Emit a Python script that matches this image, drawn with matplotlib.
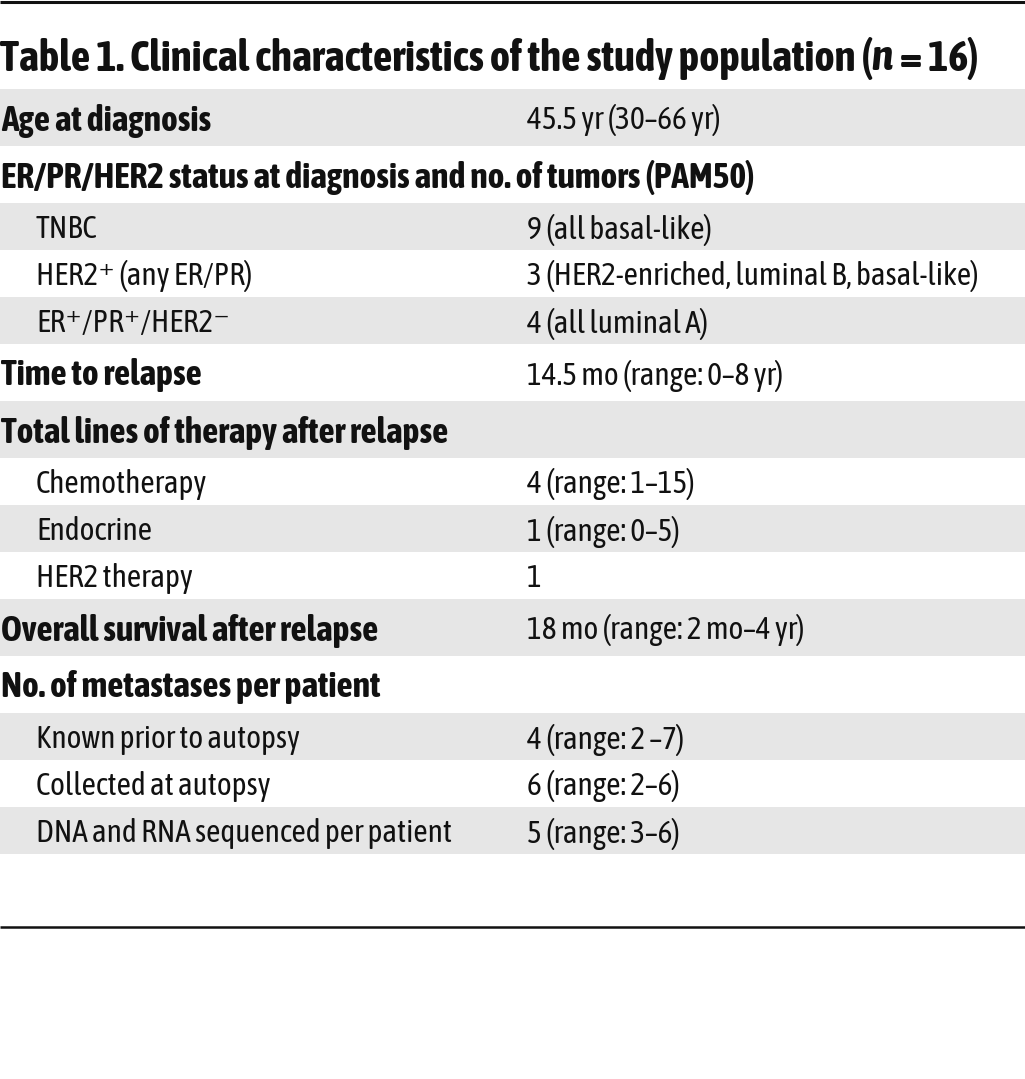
import matplotlib
matplotlib.use('Agg')
from matplotlib import pyplot as plt
from matplotlib import font_manager, transforms
from matplotlib import patheffects as pe
from matplotlib.patches import Rectangle

# table content
labels = ["Age at diagnosis",
          "ER/PR/HER2 status at diagnosis and no. of tumors (PAM50)",
          "TNBC",
          "HER2\u207a (any ER/PR)",
          "ER\u207a/PR\u207a/HER2\u207b",
          "Time to relapse",
          "Total lines of therapy after relapse",
          "Chemotherapy",
          "Endocrine",
          "HER2 therapy",
          "Overall survival after relapse",
          "No. of metastases per patient",
          "Known prior to autopsy",
          "Collected at autopsy",
          "DNA and RNA sequenced per patient"]
values = ["45.5 yr (30\u201366 yr)",
          "",
          "9 (all basal-like)",
          "3 (HER2-enriched, luminal B, basal-like)",
          "4 (all luminal A)",
          "14.5 mo (range: 0\u20138 yr)",
          "",
          "4 (range: 1\u201315)",
          "1 (range: 0\u20135)",
          "1",
          "18 mo (range: 2 mo\u20134 yr)",
          "",
          "4 (range: 2 \u20137)",
          "6 (range: 2\u20136)",
          "5 (range: 3\u20136)"]
levels = [0, 0, 1, 1, 1, 0, 0, 1, 1, 1, 0, 0, 1, 1, 1]

title_a = "Table 1. Clinical characteristics of the study population ("
title_n = "n"
title_b = " = 16)"

# pick a narrow face if one is installed, prefer one that has a bold cut
fonts = font_manager.fontManager.ttflist
narrow = sorted({f.name for f in fonts if 'Condensed' in f.name or 'Narrow' in f.name})
has_bold = [n for n in narrow
            if any(f.name == n and f.weight in ('bold', 700, 600, 'semibold', 'demibold')
                   for f in fonts)]
base = has_bold[0] if has_bold else (narrow[0] if narrow else 'Roboto')
fam = [base, 'DejaVu Sans']
real_bold = bool(has_bold) or not narrow

W, H = 1025, 1079
fig = plt.figure(figsize=(W / 100, H / 100), dpi=100)
ax = fig.add_axes([0, 0, 1, 1])
ax.set_xlim(0, W)
ax.set_ylim(H, 0)
ax.axis('off')
r = fig.canvas.get_renderer()

ink = '#111111'
grey = '#e6e6e6'
if real_bold:
    bkw = dict(fontweight='bold')
else:
    # thicken the regular face with an outline of the same colour
    bkw = dict(path_effects=[pe.withStroke(linewidth=1.3, foreground=ink)])


def width_at(s, size, **kw):
    t = ax.text(0, 0, s, fontsize=size, family=fam, **kw)
    w = t.get_window_extent(r).width
    t.remove()
    return w


# size the text so line lengths follow the reference
body = 20 * 415 / width_at(labels[-1], 20)
bold = 20 * 752 / width_at(labels[1], 20, **bkw)
tsize = 20 * 975 / width_at(title_a + title_n + title_b, 20, **bkw)

# rules
ax.plot([0, W], [1.5, 1.5], color=ink, lw=2.2, solid_capstyle='butt')
ax.plot([0, W], [927, 927], color=ink, lw=1.8, solid_capstyle='butt')

# title, with italic n
mix = transforms.blended_transform_factory(transforms.IdentityTransform(),
                                           ax.transData)
ty = 58
t = ax.text(0, ty, title_a, fontsize=tsize, family=fam,
            va='center', ha='left', color=ink, **bkw)
x = t.get_window_extent(r).x1
t2 = ax.text(x, ty, title_n, fontsize=tsize, style='italic', family=fam,
             va='center', ha='left', color=ink, transform=mix, **bkw)
x2 = t2.get_window_extent(r).x1 + 1
ax.text(x2, ty, title_b, fontsize=tsize, family=fam,
        va='center', ha='left', color=ink, transform=mix, **bkw)

# rows
y = 89
for i, (lab, val, lev) in enumerate(zip(labels, values, levels)):
    h = 57 if lev == 0 else 47
    if i % 2 == 0:
        ax.add_patch(Rectangle((0, y), W, h, color=grey, lw=0))
    cy = y + h / 2 + 3
    if lev == 0:
        ax.text(1, cy, lab, fontsize=bold, family=fam,
                va='center', ha='left', color=ink, **bkw)
    else:
        ax.text(36, cy, lab, fontsize=body, family=fam,
                va='center', ha='left', color=ink)
    if val:
        ax.text(527, cy, val, fontsize=body, family=fam,
                va='center', ha='left', color=ink)
    y += h

fig.savefig('out.png', dpi=100)
